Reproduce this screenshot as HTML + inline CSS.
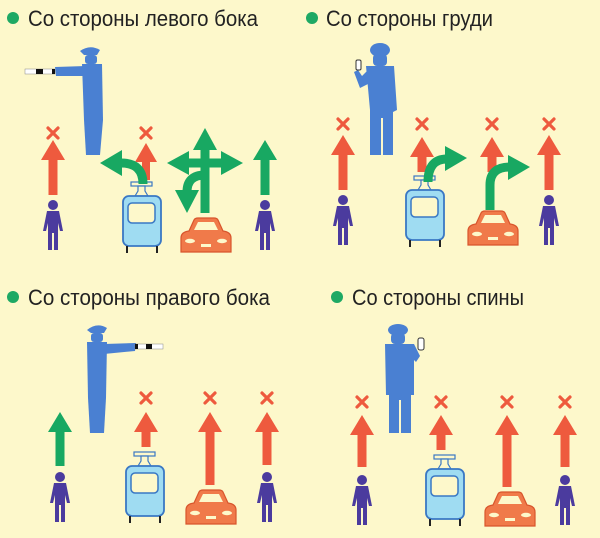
<!DOCTYPE html>
<html><head><meta charset="utf-8"><style>
html,body{margin:0;padding:0;background:#fdf8cb}
svg{display:block}
text{font-family:"Liberation Sans",sans-serif;font-size:22px;fill:#222}
</style></head><body>
<svg width="600" height="538" viewBox="0 0 600 538" xmlns="http://www.w3.org/2000/svg">
<rect width="600" height="538" fill="#fdf8cb"/>
<defs>
<g id="ped" fill="#4b3b9e">
<circle cx="0" cy="5" r="5"/>
<path d="M-6,11 H6 L10,31 H7 L5,23 V50 H1 V33 H-1 V50 H-5 V23 L-7,31 H-10 Z"/>
</g>
<g id="tram">
<rect x="9" y="0" width="21" height="4" fill="#fdf8cb" stroke="#3a78c4" stroke-width="1.2"/>
<path d="M16,4 H23 V9 L26,14 H13 L16,9 Z" fill="#fdf8cb" stroke="#3a78c4" stroke-width="1.2"/>
<rect x="1" y="14" width="38" height="50" rx="6" fill="#9fdcf2" stroke="#3a78c4" stroke-width="1.8"/>
<rect x="6" y="21" width="27" height="20" rx="4" fill="#fdf8cb" stroke="#3a78c4" stroke-width="1.5"/>
<rect x="4" y="64" width="2" height="7" fill="#222"/>
<rect x="34" y="64" width="2" height="7" fill="#222"/>
</g>
<g id="car">
<path d="M8,13 L13,2 Q14,0 17,0 H33 Q36,0 37,2 L42,13 Q50,14 50,20 V34 H0 V20 Q0,14 8,13 Z" fill="#f07a4a" stroke="#d8552c" stroke-width="1.2"/>
<path d="M13,12 L17,4 H33 L37,12 Z" fill="#fdf8cb"/>
<ellipse cx="9" cy="23" rx="5" ry="2.2" fill="#fdf8cb"/>
<ellipse cx="41" cy="23" rx="5" ry="2.2" fill="#fdf8cb"/>
<rect x="20" y="26" width="10" height="3" fill="#fdf8cb"/>
</g>
<g id="x" stroke="#ee5a3e" stroke-width="3.2" stroke-linecap="round">
<line x1="-5" y1="-5" x2="5" y2="5"/><line x1="5" y1="-5" x2="-5" y2="5"/>
</g>
</defs>

<!-- titles -->
<circle cx="13" cy="18" r="6" fill="#1ea964"/>
<text x="28" y="26" textLength="230" lengthAdjust="spacingAndGlyphs">Со стороны левого бока</text>
<circle cx="312" cy="18" r="6" fill="#1ea964"/>
<text x="326" y="26" textLength="167" lengthAdjust="spacingAndGlyphs">Со стороны груди</text>
<circle cx="13" cy="297" r="6" fill="#1ea964"/>
<text x="28" y="305" textLength="242" lengthAdjust="spacingAndGlyphs">Со стороны правого бока</text>
<circle cx="337" cy="297" r="6" fill="#1ea964"/>
<text x="352" y="305" textLength="172" lengthAdjust="spacingAndGlyphs">Со стороны спины</text>

<!-- PANEL 1 -->
<g fill="#4a80d2">
<path d="M80,51 Q90,44 100,50 L97,55 H84 Z"/>
<rect x="85" y="55" width="12" height="9" rx="3"/>
<path d="M82,64 H102 L103,120 L100,155 H86 L84,120 Z"/>
<path d="M55,67 L86,66 L87,76 L56,76 Z"/>
</g>
<rect x="25" y="69" width="30" height="5" fill="#fff" stroke="#888" stroke-width="0.5"/>
<rect x="36" y="69" width="7" height="5" fill="#111"/>
<rect x="52" y="69" width="3" height="5" fill="#111"/>
<use href="#ped" x="53" y="200"/>
<use href="#ped" x="265" y="200"/>
<use href="#x" x="53" y="133"/>
<path d="M48.5,195 V160 H41 L53,140 L65,160 H57.5 V195Z" fill="#ee5a3e"/>
<use href="#x" x="146" y="133"/>
<path d="M142,180 V162 H135 L146,143 L157,162 H150 V180Z" fill="#ee5a3e"/>
<use href="#tram" x="122" y="182"/>
<use href="#car" x="181" y="218"/>
<g fill="none" stroke="#18a862" stroke-width="9">
<path d="M143,184 Q143,163 121,163"/>
<path d="M205,213 V148"/>
<path d="M205,163 H188"/>
<path d="M205,163 H222"/>
<path d="M205,175 Q187,175 187,192"/>
</g>
<g fill="#18a862">
<path d="M100,163 L122,150 V176 Z"/>
<path d="M205,128 L193,150 H217 Z"/>
<path d="M167,163 L189,151 V175 Z"/>
<path d="M243,163 L221,151 V175 Z"/>
<path d="M187,213 L175,190 H199 Z"/>
<path d="M260.5,195 V160 H253 L265,140 L277,160 H269.5 V195Z"/>
</g>

<!-- PANEL 2 -->
<g fill="#4a80d2">
<ellipse cx="380" cy="50" rx="10" ry="7"/>
<rect x="373" y="54" width="14" height="12" rx="4"/>
<path d="M366,66 H394 L397,110 L393,112 V155 H383 V118 H381 V155 H370 V110 Z"/>
<path d="M368,70 L362,76 L358,70 L354,72 L360,88 L368,84 Z"/>
</g>
<rect x="356" y="60" width="5" height="10" rx="1.5" fill="#fff" stroke="#333" stroke-width="1"/>
<use href="#ped" x="343" y="195"/>
<use href="#ped" x="549" y="195"/>
<use href="#x" x="343" y="124"/><path d="M338.5,190 V155 H331 L343,135 L355,155 H347.5 V190Z" fill="#ee5a3e"/>
<use href="#x" x="422" y="124"/><path d="M417.5,172 V157 H410 L422,137 L434,157 H426.5 V172Z" fill="#ee5a3e"/>
<use href="#x" x="492" y="124"/><path d="M487.5,172 V157 H480 L492,137 L504,157 H496.5 V172Z" fill="#ee5a3e"/>
<use href="#x" x="549" y="124"/><path d="M544.5,190 V155 H537 L549,135 L561,155 H553.5 V190Z" fill="#ee5a3e"/>
<use href="#tram" x="405" y="176"/>
<use href="#car" x="468" y="211"/>
<g fill="none" stroke="#18a862" stroke-width="9">
<path d="M428,182 Q428,159 447,159"/>
<path d="M490,210 V185 Q490,167 510,167"/>
</g>
<g fill="#18a862">
<path d="M467,158 L445,146 V171 Z"/>
<path d="M530,167 L508,155 V180 Z"/>
</g>

<!-- PANEL 3 -->
<g fill="#4a80d2">
<path d="M87,330 Q97,322 107,328 L104,333 H91 Z"/>
<rect x="91" y="333" width="12" height="9" rx="3"/>
<path d="M87,342 H107 L106,398 L104,433 H90 L88,398 Z"/>
<path d="M104,344 L136,343 L135,351 L104,354 Z"/>
</g>
<rect x="135" y="344" width="28" height="5" fill="#fff" stroke="#888" stroke-width="0.5"/>
<rect x="135" y="344" width="3" height="5" fill="#111"/>
<rect x="146" y="344" width="6" height="5" fill="#111"/>
<use href="#ped" x="60" y="472"/>
<use href="#ped" x="267" y="472"/>
<path d="M55.5,466 V432 H48 L60,412 L72,432 H64.5 V466Z" fill="#18a862"/>
<use href="#x" x="146" y="398"/><path d="M141.5,447 V432 H134 L146,412 L158,432 H150.5 V447Z" fill="#ee5a3e"/>
<use href="#x" x="210" y="398"/><path d="M205.5,485 V432 H198 L210,412 L222,432 H214.5 V485Z" fill="#ee5a3e"/>
<use href="#x" x="267" y="398"/><path d="M262.5,465 V432 H255 L267,412 L279,432 H271.5 V465Z" fill="#ee5a3e"/>
<use href="#tram" x="125" y="452"/>
<use href="#car" x="186" y="490"/>

<!-- PANEL 4 -->
<g fill="#4a80d2">
<ellipse cx="398" cy="330" rx="10" ry="6"/>
<rect x="391" y="333" width="14" height="11" rx="4"/>
<path d="M385,344 H414 L420,356 L416,362 L414,360 V395 H411 V433 H401 V400 H399 V433 H389 V395 H386 Z"/>
</g>
<rect x="418" y="338" width="6" height="12" rx="2" fill="#fff" stroke="#333" stroke-width="1"/>
<use href="#ped" x="362" y="475"/>
<use href="#ped" x="565" y="475"/>
<use href="#x" x="362" y="402"/><path d="M357.5,467 V435 H350 L362,415 L374,435 H366.5 V467Z" fill="#ee5a3e"/>
<use href="#x" x="441" y="402"/><path d="M436.5,450 V435 H429 L441,415 L453,435 H445.5 V450Z" fill="#ee5a3e"/>
<use href="#x" x="507" y="402"/><path d="M502.5,487 V435 H495 L507,415 L519,435 H511.5 V487Z" fill="#ee5a3e"/>
<use href="#x" x="565" y="402"/><path d="M560.5,467 V435 H553 L565,415 L577,435 H569.5 V467Z" fill="#ee5a3e"/>
<use href="#tram" x="425" y="455"/>
<use href="#car" x="485" y="492"/>
</svg>
</body></html>
